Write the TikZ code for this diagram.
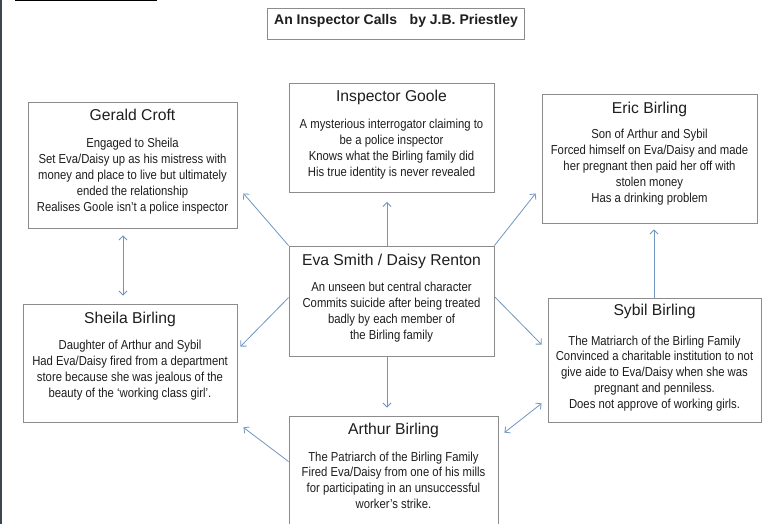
\documentclass[tikz,border=0pt]{standalone}
\usepackage{fontspec}
\setmainfont{Liberation Sans}
\newfontfamily\bodyfont[FakeStretch=0.87]{Liberation Sans}
\usetikzlibrary{arrows.meta,calc}
\definecolor{boxc}{HTML}{8C8C8C}
\definecolor{arrc}{HTML}{7096C0}
\definecolor{txtc}{HTML}{1E1E1E}
\definecolor{edgec}{HTML}{3B4650}
\begin{document}
\begin{tikzpicture}[x=1pt,y=-1pt,
  card/.style={draw=boxc, line width=0.9pt, rectangle, inner sep=0pt},
  headtxt/.style={text=txtc, inner sep=0pt, font=\fontsize{15.7}{18}\selectfont},
  bodytxt/.style={text=txtc, inner sep=0pt, align=center, font=\bodyfont\fontsize{13}{15.9}\selectfont},
  arr/.style={draw=arrc, line width=0.8pt, -{Straight Barb[length=4pt,width=8pt]}},
  darr/.style={draw=arrc, line width=0.8pt, {Straight Barb[length=4pt,width=8pt]}-{Straight Barb[length=4pt,width=8pt]}}]
\path[use as bounding box] (0,0) rectangle (765,524);
\clip (0,0) rectangle (765,524);
\fill[white] (0,0) rectangle (765,524);
\fill[edgec] (0,0) rectangle (2,524);
\draw[black, line width=1.5pt] (15,0.75) -- (157,0.75);

% title
\node[card, minimum width=257pt, minimum height=31pt] (title) at (395.5,23.5) {};
\node[anchor=base west, inner sep=0pt, text=txtc, font=\bfseries\fontsize{14}{16}\selectfont] (titletxt) at (274,25) {An Inspector Calls\hspace{0.9em}by J.B. Priestley};

% boxes
\node[card, minimum width=209pt, minimum height=126pt] (gerald) at (132.5,165) {};
\node[card, minimum width=205pt, minimum height=109pt] (goole) at (391.5,137.5) {};
\node[card, minimum width=215pt, minimum height=129pt] (eric) at (649.5,158.5) {};
\node[card, minimum width=205pt, minimum height=110pt] (eva) at (391.5,301) {};
\node[card, minimum width=214pt, minimum height=118pt] (sheila) at (130,363) {};
\node[card, minimum width=213pt, minimum height=124pt] (sybil) at (654.5,360) {};
\node[card, minimum width=209pt, minimum height=114pt] (arthur) at (393.5,473) {};

% headings
\node[headtxt, anchor=base] (geraldT) at (132.5,120.7) {Gerald Croft};
\node[headtxt, anchor=base] (gooleT) at (391.5,102) {Inspector Goole};
\node[headtxt, anchor=base] (ericT) at (649.5,113.3) {Eric Birling};
\node[headtxt, anchor=base] (evaT) at (391.5,265) {Eva Smith / Daisy Renton};
\node[headtxt, anchor=base] (sheilaT) at (130,323.3) {Sheila Birling};
\node[headtxt, anchor=base] (sybilT) at (654.5,315) {Sybil Birling};
\node[headtxt, anchor=base] (arthurT) at (393.5,434) {Arthur Birling};

% bodies (base anchor = baseline of last line)
\node[bodytxt, anchor=base] (geraldB) at (132.5,211.3) {Engaged to Sheila\\Set Eva/Daisy up as his mistress with\\money and place to live but ultimately\\ended the relationship\\Realises Goole isn’t a police inspector};
\node[bodytxt, anchor=base] (gooleB) at (391.5,176) {A mysterious interrogator claiming to\\be a police inspector\\Knows what the Birling family did\\His true identity is never revealed};
\node[bodytxt, anchor=base] (ericB) at (649.5,202) {Son of Arthur and Sybil\\Forced himself on Eva/Daisy and made\\her pregnant then paid her off with\\stolen money\\Has a drinking problem};
\node[bodytxt, anchor=base] (evaB) at (391.5,339.4) {An unseen but central character\\Commits suicide after being treated\\badly by each member of\\the Birling family};
\node[bodytxt, anchor=base] (sheilaB) at (130,397) {Daughter of Arthur and Sybil\\Had Eva/Daisy fired from a department\\store because she was jealous of the\\beauty of the ‘working class girl’.};
\node[bodytxt, anchor=base] (sybilB) at (654.5,408.6) {The Matriarch of the Birling Family\\Convinced a charitable institution to not\\give aide to Eva/Daisy when she was\\pregnant and penniless.\\Does not approve of working girls.};
\node[bodytxt, anchor=base] (arthurB) at (393.5,508.7) {The Patriarch of the Birling Family\\Fired Eva/Daisy from one of his mills\\for participating in an unsuccessful\\worker’s strike.};

% connectors
\draw[arr] ($(eva.north)+(-4.5,0)$) -- ($(goole.south)+(-4.5,9.5)$);
\draw[arr] ($(eva.south)+(-4.5,0)$) -- ($(arthur.north)+(-6.5,-8)$);
\draw[arr] (eva.north west) -- ($(gerald.south east)+(6,-35)$);
\draw[arr] (eva.north east) -- ($(eric.south west)+(-6,-30)$);
\draw[arr] ($(eva.north west)+(0,52)$) -- ($(sheila.north east)+(3,43)$);
\draw[arr] ($(eva.north east)+(0,51)$) -- ($(sybil.north west)+(-6,47)$);
\draw[arr] ($(arthur.north west)+(0,46)$) -- ($(sheila.south east)+(6,5)$);
\draw[darr] ($(arthur.north east)+(6,17)$) -- ($(sybil.south west)+(-6,-19)$);
\draw[arr] ($(sybil.north)+(-0.5,0)$) -- ($(eric.south)+(4.5,6)$);
\draw[darr] ($(gerald.south)+(-9.5,7)$) -- ($(sheila.north)+(-7,-8)$);
\end{tikzpicture}
\end{document}
